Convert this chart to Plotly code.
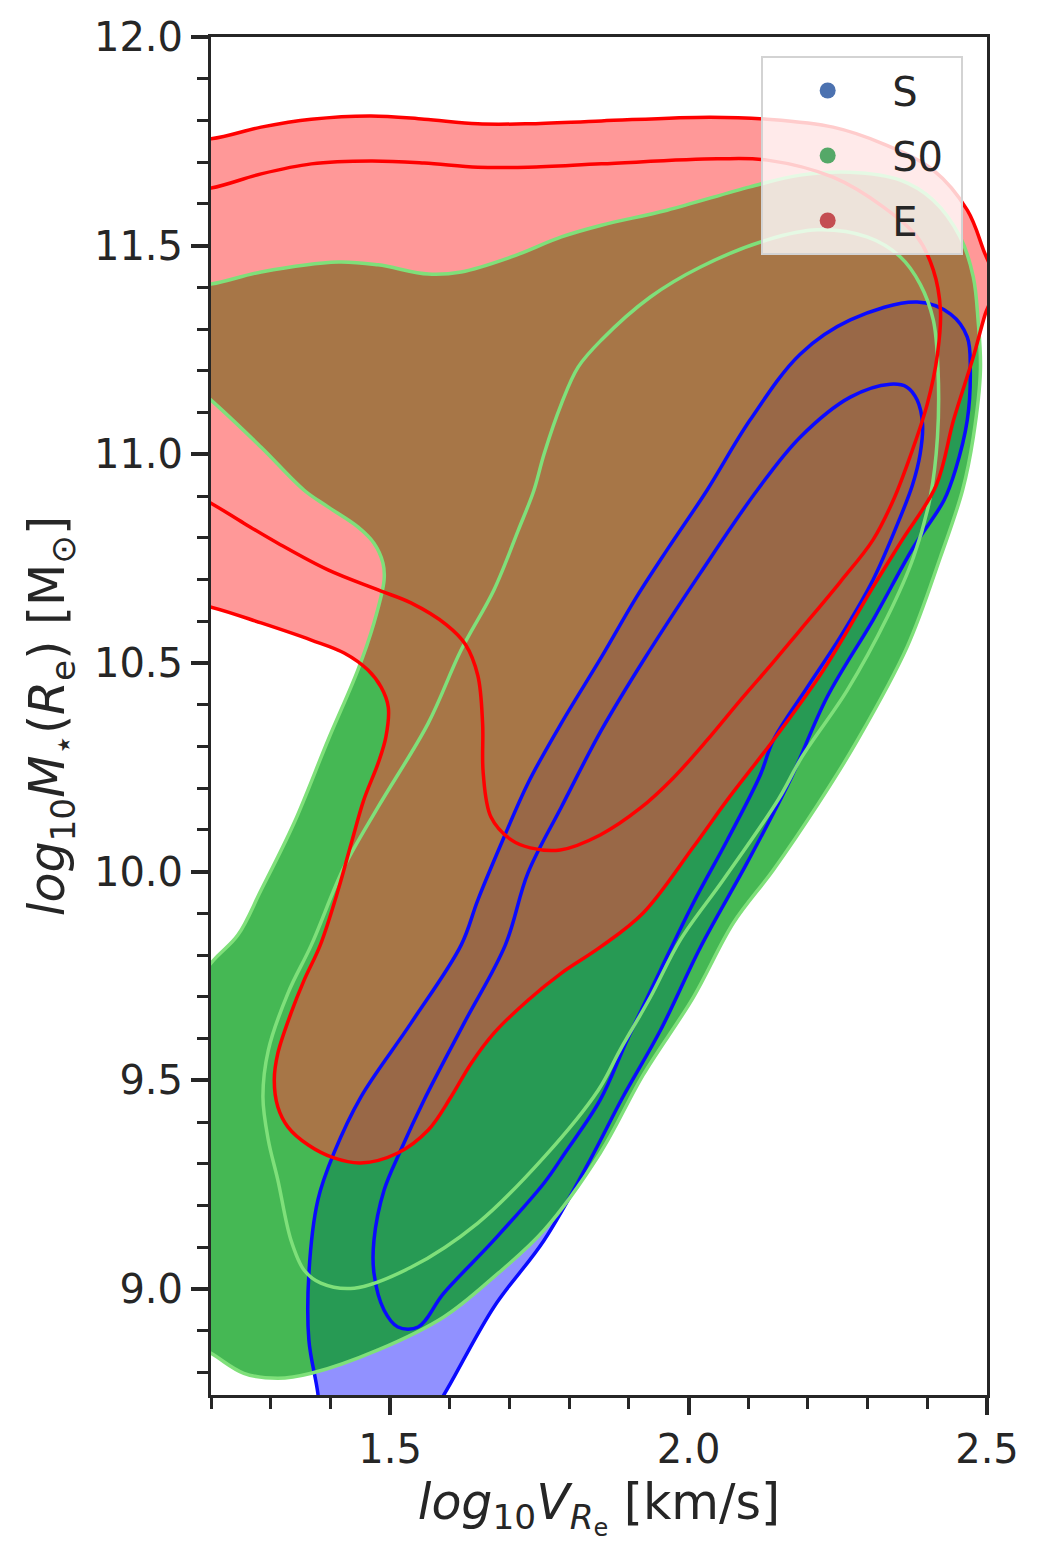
import plotly.graph_objects as go

# ---------------- data (contours, data units) ----------------
# E (elliptical) - outer density contour (filled) and inner contour
E_outer_x = [1.098,1.2,1.284,1.368,1.468,1.557,1.647,1.731,1.854,2.036,2.132,2.242,2.326,2.410,2.467,2.494,2.514,2.497,2.477,2.444,2.415,2.358,2.309,2.226,2.142,2.065,2.008,1.924,1.852,1.787,1.731,1.674,1.636,1.602,1.564,1.513,1.451,1.406,1.363,1.329,1.312,1.306,1.312,1.334,1.356,1.383,1.413,1.435,1.456,1.480,1.493,1.497,1.485,1.463,1.423,1.368,1.284,1.2,1.098]
E_outer_y = [11.751,11.756,11.784,11.803,11.811,11.803,11.792,11.792,11.799,11.808,11.803,11.784,11.744,11.681,11.585,11.490,11.406,11.336,11.233,11.082,10.926,10.795,10.682,10.483,10.315,10.172,10.059,9.901,9.819,9.757,9.692,9.613,9.541,9.460,9.381,9.326,9.302,9.314,9.345,9.388,9.436,9.501,9.565,9.661,9.740,9.824,9.956,10.068,10.172,10.260,10.323,10.394,10.442,10.483,10.524,10.555,10.596,10.634,10.663]

E_inner_x = [1.098,1.2,1.284,1.368,1.468,1.557,1.647,1.731,1.854,2.048,2.132,2.242,2.326,2.383,2.410,2.422,2.417,2.400,2.371,2.343,2.309,2.254,2.187,2.142,2.087,2.031,1.974,1.919,1.852,1.785,1.735,1.703,1.669,1.656,1.655,1.647,1.626,1.594,1.535,1.480,1.396,1.312,1.255,1.2,1.098]
E_inner_y = [11.621,11.638,11.672,11.696,11.703,11.698,11.688,11.688,11.696,11.708,11.705,11.664,11.593,11.521,11.442,11.346,11.240,11.121,10.994,10.890,10.795,10.694,10.579,10.502,10.411,10.315,10.224,10.152,10.088,10.052,10.057,10.076,10.131,10.236,10.356,10.470,10.545,10.592,10.644,10.675,10.723,10.787,10.835,10.883,10.962]

# S0 (lenticular)
S0_outer_x = [1.098,1.2,1.284,1.413,1.480,1.564,1.619,1.703,1.787,1.854,1.964,2.103,2.187,2.271,2.355,2.410,2.455,2.477,2.485,2.489,2.477,2.459,2.422,2.366,2.283,2.216,2.142,2.075,2.008,1.924,1.852,1.758,1.674,1.590,1.480,1.368,1.312,1.255,1.2,1.098,1.098,1.2,1.245,1.284,1.339,1.396,1.446,1.473,1.490,1.488,1.473,1.446,1.396,1.356,1.284,1.2,1.098]
S0_outer_y = [11.394,11.408,11.437,11.461,11.454,11.432,11.437,11.473,11.521,11.549,11.585,11.641,11.669,11.676,11.657,11.609,11.521,11.425,11.322,11.202,11.041,10.914,10.754,10.538,10.315,10.160,10.004,9.877,9.699,9.513,9.326,9.141,9.029,8.933,8.854,8.798,8.786,8.798,8.846,8.930,9.580,9.781,9.848,9.956,10.116,10.315,10.483,10.596,10.699,10.740,10.787,10.826,10.874,10.914,11.017,11.130,11.250]

S0_inner_x = [1.854,1.936,2.020,2.132,2.216,2.299,2.355,2.388,2.410,2.418,2.417,2.405,2.377,2.333,2.266,2.190,2.150,2.058,1.986,1.936,1.885,1.849,1.758,1.647,1.535,1.440,1.384,1.356,1.334,1.312,1.296,1.287,1.296,1.329,1.368,1.423,1.480,1.564,1.619,1.674,1.715,1.741,1.758,1.787,1.815,1.854]
S0_inner_y = [11.274,11.377,11.449,11.514,11.538,11.521,11.473,11.408,11.322,11.202,11.041,10.898,10.754,10.610,10.435,10.275,10.172,9.980,9.836,9.699,9.572,9.477,9.316,9.158,9.052,9.002,9.014,9.045,9.117,9.261,9.357,9.460,9.572,9.709,9.824,10.011,10.155,10.356,10.531,10.675,10.819,10.914,11.001,11.121,11.209,11.274]

# S (spiral)
S_outer_x = [2.031,2.103,2.187,2.271,2.383,2.439,2.467,2.472,2.467,2.447,2.428,2.377,2.309,2.232,2.170,2.098,2.020,1.953,1.890,1.835,1.758,1.674,1.590,1.542,1.386,1.379,1.364,1.364,1.379,1.406,1.451,1.535,1.619,1.647,1.691,1.731,1.787,1.854,1.912,1.964,2.031]
S_outer_y = [10.914,11.082,11.240,11.322,11.365,11.336,11.281,11.202,11.082,10.962,10.890,10.778,10.603,10.418,10.219,10.021,9.819,9.620,9.460,9.309,9.117,8.957,8.746,8.638,8.638,8.750,8.877,9.038,9.213,9.326,9.460,9.637,9.824,9.932,10.083,10.212,10.356,10.514,10.656,10.771,10.914]

S_inner_x = [2.115,2.187,2.271,2.338,2.366,2.383,2.392,2.388,2.375,2.346,2.309,2.254,2.199,2.142,2.120,2.065,2.008,1.953,1.897,1.852,1.793,1.758,1.674,1.590,1.547,1.513,1.490,1.473,1.473,1.490,1.518,1.557,1.624,1.693,1.731,1.787,1.854,1.927,2.020,2.115]
S_inner_y = [10.914,11.041,11.137,11.168,11.161,11.130,11.073,11.001,10.926,10.819,10.699,10.562,10.442,10.315,10.231,10.076,9.925,9.764,9.596,9.453,9.326,9.254,9.117,8.990,8.909,8.909,8.949,9.038,9.117,9.237,9.333,9.453,9.637,9.824,9.997,10.155,10.339,10.512,10.716,10.914]

classes = ["S", "S0", "E"]
legend_colors = ["#4c72b0", "#55a868", "#c44e52"]

fill_colors = {"S": "rgba(0,0,255,0.43)", "S0": "rgba(0,158,20,0.73)", "E": "rgba(255,60,60,0.53)"}
line_colors = {"S": "#0a0aff", "S0": "#7fe07a", "E": "#ff0000"}

outer = {"S": (S_outer_x, S_outer_y), "S0": (S0_outer_x, S0_outer_y), "E": (E_outer_x, E_outer_y)}
inner = {"S": (S_inner_x, S_inner_y), "S0": (S0_inner_x, S0_inner_y), "E": (E_inner_x, E_inner_y)}

fig = go.Figure()

# filled outer regions
for c in classes:
    x, y = outer[c]
    fig.add_trace(go.Scatter(x=x, y=y, mode="lines", fill="toself", fillcolor=fill_colors[c],
                             line=dict(width=0, shape="spline", smoothing=1.0, color=fill_colors[c]),
                             showlegend=False, hoverinfo="skip"))

# contour lines
for c in classes:
    for (x, y) in (outer[c], inner[c]):
        fig.add_trace(go.Scatter(x=x, y=y, mode="lines",
                                 line=dict(width=3.5, shape="spline", smoothing=1.0, color=line_colors[c]),
                                 showlegend=False, hoverinfo="skip"))

# legend markers
for i, c in enumerate(classes):
    fig.add_trace(go.Scatter(x=[None], y=[None], mode="markers", name=c + "\u00a0", legendgroup=c,
                             marker=dict(size=16, color=legend_colors[i])))

axis_col = "#262626"
font_family = "DejaVu Sans"

# the page body adds an 8px offset, so margins are shifted to compensate
fig.update_layout(
    width=1038, height=1558,
    margin=dict(l=203, r=59, t=29, b=171),
    paper_bgcolor="white", plot_bgcolor="white",
    font=dict(family=font_family, color=axis_col, size=40),
    legend=dict(x=0.709, y=0.986, xanchor="left", yanchor="top",
                bgcolor="rgba(255,255,255,0.8)", bordercolor="#d3d3d3", borderwidth=2,
                font=dict(size=40, family=font_family, color=axis_col),
                itemwidth=119, tracegroupgap=10, traceorder="grouped"),
)

fig.update_xaxes(
    range=[1.2, 2.5], tick0=0, dtick=0.5, tickformat=".1f", automargin=False,
    showgrid=False, zeroline=False,
    showline=True, linecolor=axis_col, linewidth=3, mirror=True,
    ticks="outside", ticklen=17, tickwidth=3.5, tickcolor=axis_col,
    tickfont=dict(size=40),
    minor=dict(dtick=0.1, tick0=0, ticks="outside", ticklen=11, tickwidth=2.5, tickcolor=axis_col, showgrid=False),
    title=dict(text="<i>log</i><sub>10</sub><i>V</i><sub><i>R</i><sub>e</sub></sub> [km/s]",
               font=dict(size=49, family=font_family), standoff=14),
)
fig.update_yaxes(
    range=[8.746, 12.0], tick0=0, dtick=0.5, tickformat=".1f", automargin=False,
    showgrid=False, zeroline=False,
    showline=True, linecolor=axis_col, linewidth=3, mirror=True,
    ticks="outside", ticklen=17, tickwidth=3.5, tickcolor=axis_col,
    tickfont=dict(size=40),
    minor=dict(dtick=0.1, tick0=0, ticks="outside", ticklen=11, tickwidth=2.5, tickcolor=axis_col, showgrid=False),
    title=dict(text="<i>log</i><sub>10</sub><i>M</i><sub>\u22c6</sub>(<i>R</i><sub>e</sub>) [M<sub>\u2299</sub>]",
               font=dict(size=49, family=font_family), standoff=14),
)

fig.write_html("out.html")
